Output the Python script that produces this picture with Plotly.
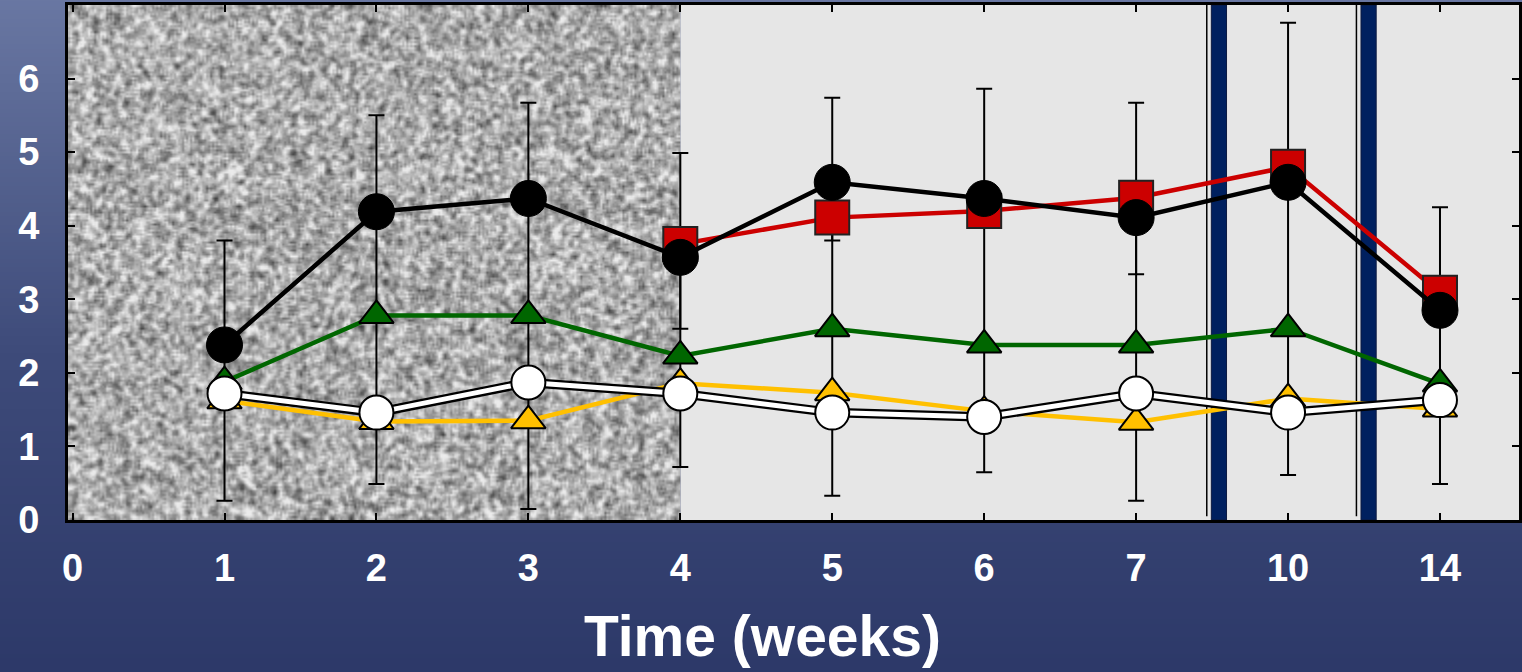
import base64
import struct
import zlib

import numpy as np
import plotly.graph_objects as go

# ---------------- data ----------------
week_labels = ["0", "1", "2", "3", "4", "5", "6", "7", "10", "14"]
pos_all = [1, 2, 3, 4, 5, 6, 7, 8, 9]          # category positions of weeks 1..14
pos_red = [4, 5, 6, 7, 8, 9]                   # weeks 4..14

black_vals = [2.38, 4.19, 4.37, 3.57, 4.59, 4.37, 4.11, 4.59, 2.85]
red_vals = [3.75, 4.11, 4.20, 4.38, 4.80, 3.09]
green_vals = [1.88, 2.78, 2.78, 2.23, 2.60, 2.38, 2.38, 2.60, 1.85]
yellow_vals = [1.62, 1.34, 1.35, 1.86, 1.73, 1.48, 1.33, 1.65, 1.51]
white_vals = [1.72, 1.46, 1.87, 1.72, 1.46, 1.40, 1.72, 1.46, 1.63]

err_high = [3.80, 5.50, 5.67, 4.99, 5.74, 5.86, 5.67, 6.76, 4.25]
err_low = [0.26, 0.49, 0.15, 0.72, 0.33, 0.65, 0.26, 0.61, 0.49]
red_err_low = [2.60, 3.80, None, 3.34, None, None]

y_ticks = [0, 1, 2, 3, 4, 5, 6]
axis_breaks = [7.545, 8.53]
x_min = -0.03
x_max = 9.52
y_max = 7


# ---------------- helpers ----------------
def png_uri(arr):
    h, w, _ = arr.shape
    raw = b"".join(b"\x00" + arr[i].tobytes() for i in range(h))

    def chunk(t, d):
        c = struct.pack(">I", len(d)) + t + d
        return c + struct.pack(">I", zlib.crc32(t + d) & 0xFFFFFFFF)

    png = (b"\x89PNG\r\n\x1a\n"
           + chunk(b"IHDR", struct.pack(">IIBBBBB", w, h, 8, 2, 0, 0, 0))
           + chunk(b"IDAT", zlib.compress(raw, 9))
           + chunk(b"IEND", b""))
    return "data:image/png;base64," + base64.b64encode(png).decode()


# vertical blue gradient for the page background
gh = 168
t = np.linspace(0, 1, gh)[:, None]
top = np.array([106, 120, 163], float)
mid = np.array([62, 75, 122], float)
bot = np.array([43, 55, 103], float)
col = np.where(t < 0.5, top + (mid - top) * (t / 0.5), mid + (bot - mid) * ((t - 0.5) / 0.5))
grad = np.repeat(col[:, None, :], 4, axis=1).clip(0, 255).astype(np.uint8)
grad_uri = png_uri(grad)

# speckled grey texture (deterministic hash pattern)
H, W = 257, 306
jj, ii = np.meshgrid(np.arange(W), np.arange(H))
v = np.sin(ii * 12.9898 + jj * 78.233) * 43758.5453
v = v - np.floor(v)
b = np.zeros_like(v)
for dy in (-1, 0, 1):
    for dx in (-1, 0, 1):
        b += np.roll(np.roll(v, dy, axis=0), dx, axis=1)
b /= 9.0
b = (b - b.mean()) / b.std() * 30 + 172
g = b.clip(60, 235).astype(np.uint8)
tex = np.stack([g, g, g], axis=2)
tex_uri = png_uri(tex)

# ---------------- figure ----------------
fig = go.Figure()

bk = np.array(black_vals)
fig.add_trace(go.Scatter(
    x=pos_all, y=black_vals, mode="markers",
    marker=dict(size=2, color="rgba(0,0,0,0)"),
    error_y=dict(type="data", symmetric=False,
                 array=list(np.array(err_high) - bk),
                 arrayminus=list(bk - np.array(err_low)),
                 color="black", thickness=2, width=8),
    hoverinfo="skip", showlegend=False))

red_minus = [0 if lo is None else r - lo for r, lo in zip(red_vals, red_err_low)]
fig.add_trace(go.Scatter(
    x=pos_red, y=red_vals, mode="markers",
    marker=dict(size=2, color="rgba(0,0,0,0)"),
    error_y=dict(type="data", symmetric=False,
                 array=[0] * len(red_vals), arrayminus=red_minus,
                 color="black", thickness=2, width=8),
    hoverinfo="skip", showlegend=False))

fig.add_trace(go.Scatter(
    x=pos_all, y=yellow_vals, mode="lines+markers",
    line=dict(color="#ffc000", width=4.5),
    marker=dict(symbol="triangle-up", size=30, color="#ffc000",
                line=dict(color="black", width=2)),
    showlegend=False))

fig.add_trace(go.Scatter(
    x=pos_all, y=green_vals, mode="lines+markers",
    line=dict(color="#006600", width=4.5),
    marker=dict(symbol="triangle-up", size=30, color="#006600",
                line=dict(color="black", width=2)),
    showlegend=False))

fig.add_trace(go.Scatter(
    x=pos_red, y=red_vals, mode="lines+markers",
    line=dict(color="#cc0000", width=4.5),
    marker=dict(symbol="square", size=34, color="#cc0000",
                line=dict(color="#222222", width=2)),
    showlegend=False))

fig.add_trace(go.Scatter(
    x=pos_all, y=black_vals, mode="lines+markers",
    line=dict(color="black", width=4.5),
    marker=dict(symbol="circle", size=36, color="black",
                line=dict(color="black", width=1)),
    showlegend=False))

fig.add_trace(go.Scatter(
    x=pos_all, y=white_vals, mode="lines",
    line=dict(color="black", width=9.5),
    hoverinfo="skip", showlegend=False))

fig.add_trace(go.Scatter(
    x=pos_all, y=white_vals, mode="lines+markers",
    line=dict(color="white", width=5),
    marker=dict(symbol="circle", size=34, color="white",
                line=dict(color="black", width=2)),
    showlegend=False))

# light grey panel + axis-break bars
shapes = [dict(type="rect", xref="x", yref="y", x0=4, x1=x_max, y0=0, y1=y_max,
               fillcolor="#e6e6e6", line=dict(width=0), layer="below")]
for xb in axis_breaks:
    shapes.append(dict(type="rect", xref="x", yref="y", x0=xb - 0.05, x1=xb + 0.05,
                       y0=0, y1=y_max, fillcolor="#00205f",
                       line=dict(color="#0d1a40", width=1), layer="below"))
    shapes.append(dict(type="line", xref="x", yref="y", x0=xb - 0.08, x1=xb - 0.08,
                       y0=0.05, y1=y_max, line=dict(color="black", width=1.5),
                       layer="below"))

images = [
    dict(source=grad_uri, xref="paper", yref="paper", x=-0.06, y=1.02,
         sizex=1.1, sizey=1.4, xanchor="left", yanchor="top",
         sizing="stretch", layer="below"),
    dict(source=tex_uri, xref="x", yref="y", x=x_min, y=y_max, sizex=4 - x_min,
         sizey=y_max, xanchor="left", yanchor="top", sizing="stretch", layer="below"),
]

tick_font = dict(family="Liberation Sans, Arial, sans-serif", size=38,
                 color="white", weight="bold")

fig.update_layout(
    width=1522, height=672,
    margin=dict(l=68, r=0, t=5, b=152),
    paper_bgcolor="#44507f",
    plot_bgcolor="#e6e6e6",
    shapes=shapes,
    images=images,
    xaxis=dict(range=[x_min, x_max], tickmode="array",
               tickvals=list(range(len(week_labels))),
               ticktext=week_labels, ticks="inside", ticklen=7, tickwidth=2,
               tickcolor="black", showline=True, linecolor="black", linewidth=3,
               mirror="ticks", showgrid=False, zeroline=False, tickfont=tick_font,
               ticklabelstandoff=12),
    yaxis=dict(range=[0, y_max], tickmode="array", tickvals=y_ticks,
               ticktext=[str(v) for v in y_ticks], ticks="inside", ticklen=7,
               tickwidth=2, tickcolor="black", showline=True, linecolor="black",
               linewidth=3, mirror="ticks", showgrid=False, zeroline=False,
               tickfont=tick_font, ticklabelstandoff=18),
    annotations=[dict(text="Time (weeks)", xref="paper", yref="paper",
                      x=(764 - 68) / 1454, y=-0.16, xanchor="center", yanchor="top",
                      showarrow=False,
                      font=dict(family="Liberation Sans, Arial, sans-serif", size=57,
                                color="white", weight="bold"))],
)

fig.write_html("out.html")
